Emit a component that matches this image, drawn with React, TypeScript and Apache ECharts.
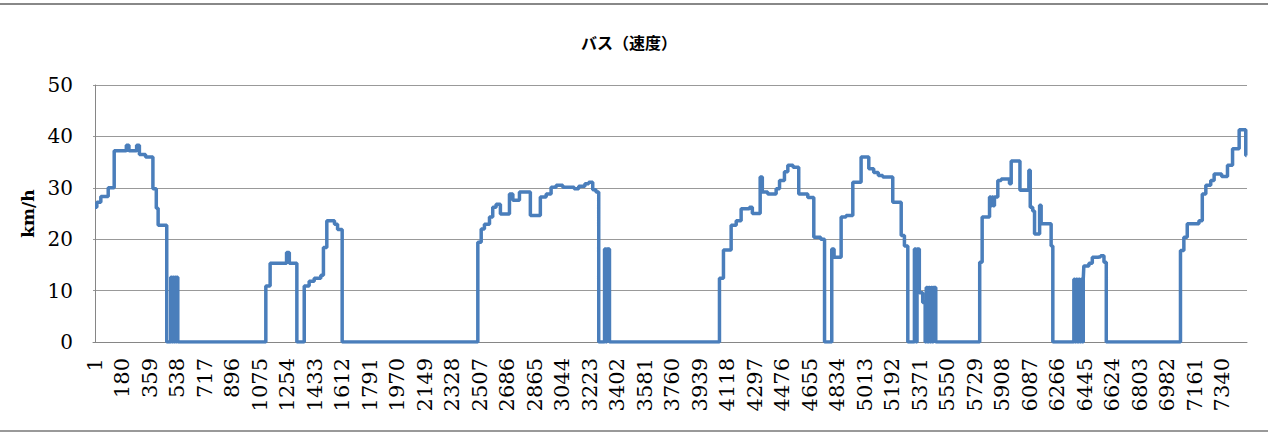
import React, { useEffect, useRef } from "react";
import * as echarts from "echarts";

const chartTitle = "バス（速度）";
const yAxisName = "km/h";

// x tick labels (category numbers)
const xTickLabels = [
  1, 180, 359, 538, 717, 896, 1075, 1254, 1433, 1612, 1791, 1970, 2149, 2328,
  2507, 2686, 2865, 3044, 3223, 3402, 3581, 3760, 3939, 4118, 4297, 4476, 4655,
  4834, 5013, 5192, 5371, 5550, 5729, 5908, 6087, 6266, 6445, 6624, 6803, 6982,
  7161, 7340,
];

// step breakpoints: index where the speed changes, and the speed from there on
const breakIdx = [
  1, 13, 39, 87, 126, 205, 222, 272, 290, 330, 378, 400, 412, 468,
  494, 501, 507, 514, 520, 527, 532, 540,
  1113, 1141, 1248, 1266, 1315, 1363, 1395, 1428, 1471, 1488, 1510, 1560, 1580, 1610,
  2493, 2515, 2536, 2569, 2590, 2612, 2640, 2699, 2721, 2764, 2835, 2900, 2938, 2970,
  3003, 3046, 3120, 3150, 3190, 3215, 3241, 3262, 3280,
  3318, 3326, 3332, 3340, 3344, 3350,
  4066, 4092, 4142, 4175, 4207, 4261, 4280, 4331, 4345, 4380, 4435, 4457, 4489, 4511,
  4545, 4582, 4641, 4680, 4725, 4750,
  4797, 4812, 4858, 4890, 4934, 4988, 5038, 5070, 5100, 5129, 5194, 5249, 5270, 5292,
  5335, 5345, 5352, 5367, 5389, 5405, 5412, 5420, 5428, 5436, 5444, 5452, 5458, 5474,
  5760, 5776, 5824, 5832, 5840, 5848, 5856, 5878, 5900, 5954, 5965, 6022, 6080, 6089,
  6105, 6117, 6150, 6160, 6225, 6236,
  6373, 6380, 6388, 6396, 6404, 6412, 6420, 6428, 6434, 6438, 6471, 6493, 6530, 6547,
  6569, 6584,
  7067, 7089, 7111, 7187, 7209, 7232, 7264, 7286, 7335, 7373, 7406, 7449, 7492, 7497,
];
const breakVal = [
  26.2, 27.2, 28.3, 30.0, 37.2, 38.3, 37.2, 38.3, 36.5, 36.0, 29.8, 26.0, 22.7, 0,
  12.6, 0, 12.6, 0, 12.6, 0, 12.6, 0,
  10.9, 15.3, 17.4, 15.3, 0, 10.9, 11.8, 12.4, 13.0, 18.4, 23.6, 22.9, 21.9, 0,
  19.4, 22.0, 22.9, 24.3, 26.2, 26.8, 24.9, 28.8, 27.6, 29.2, 24.6, 28.2, 28.8, 30.1,
  30.5, 30.1, 29.8, 30.3, 30.8, 31.1, 29.6, 29.2, 0,
  18.1, 0, 18.1, 0, 18.1, 0,
  12.4, 17.9, 22.7, 23.6, 25.9, 26.2, 25.0, 32.1, 29.2, 28.8, 29.8, 31.4, 33.1, 34.4,
  34.0, 28.8, 28.1, 20.4, 20.0, 0,
  18.1, 16.5, 24.3, 24.6, 31.1, 36.0, 33.7, 33.0, 32.4, 32.1, 27.2, 20.7, 18.7, 0,
  18.1, 0, 18.1, 9.6, 7.7, 0, 10.6, 0, 10.6, 0, 10.6, 0, 10.6, 0,
  15.5, 24.3, 28.2, 26.5, 28.2, 26.5, 28.2, 31.4, 31.7, 30.8, 35.2, 29.5, 33.4, 26.2,
  25.5, 21.0, 26.6, 23.0, 18.7, 0,
  12.2, 0, 12.2, 0, 12.2, 0, 12.2, 0, 12.2, 14.8, 15.3, 16.5, 16.6, 16.8,
  15.5, 0,
  17.8, 20.4, 23.0, 23.6, 28.8, 30.5, 31.4, 32.7, 32.2, 34.4, 37.6, 41.3, 36.3, 36.3,
];

const serif = "DejaVu Serif";

export default function App() {
  const ref = useRef<HTMLDivElement>(null);
  useEffect(() => {
    if (!ref.current) return;
    const chart = echarts.init(ref.current, undefined, { renderer: "svg" });
    const data = breakIdx.map((x, i) => [x, breakVal[i]]);
    chart.setOption({
      animation: false,
      backgroundColor: "#fff",
      title: {
        text: chartTitle,
        left: 576,
        top: 29,
        textStyle: {
          fontFamily: "Noto Sans CJK JP",
          fontSize: 16,
          fontWeight: "bold",
          color: "#000",
        },
      },
      grid: { left: 93, right: 21, top: 85, bottom: 93, containLabel: false },
      xAxis: {
        type: "value",
        min: -12,
        max: 7500,
        splitLine: { show: false },
        axisTick: { show: false },
        axisLine: { show: true, lineStyle: { color: "#868686", width: 1 } },
        axisLabel: {
          customValues: xTickLabels,
          rotate: 90,
          margin: 16,
          fontFamily: serif,
          fontSize: 21,
          color: "#000",
          formatter: (v: number) => String(v),
        },
      },
      yAxis: {
        type: "value",
        min: 0,
        max: 50,
        interval: 10,
        name: yAxisName,
        nameLocation: "middle",
        nameGap: 52,
        nameTextStyle: {
          fontFamily: serif,
          fontSize: 17,
          fontWeight: "bold",
          color: "#000",
        },
        axisLine: { show: true, lineStyle: { color: "#868686", width: 1 } },
        axisTick: { show: false },
        splitLine: { show: true, lineStyle: { color: "#999", width: 1 } },
        axisLabel: {
          margin: 20,
          fontFamily: serif,
          fontSize: 20,
          color: "#000",
        },
      },
      series: [
        {
          type: "line",
          step: "end",
          data,
          showSymbol: false,
          symbol: "none",
          lineStyle: { color: "#4a7ebb", width: 3.5 },
          itemStyle: { color: "#4a7ebb" },
        },
      ],
      graphic: [
        {
          type: "line",
          shape: { x1: 0, y1: 4, x2: 1268, y2: 4 },
          style: { stroke: "#888", lineWidth: 2 },
        },
        {
          type: "line",
          shape: { x1: 0, y1: 431, x2: 1268, y2: 431 },
          style: { stroke: "#999", lineWidth: 2 },
        },
      ],
    });
    return () => chart.dispose();
  }, []);
  return (
    <div
      ref={ref}
      style={{ position: "fixed", left: 0, top: 0, width: 1268, height: 435 }}
    />
  );
}
